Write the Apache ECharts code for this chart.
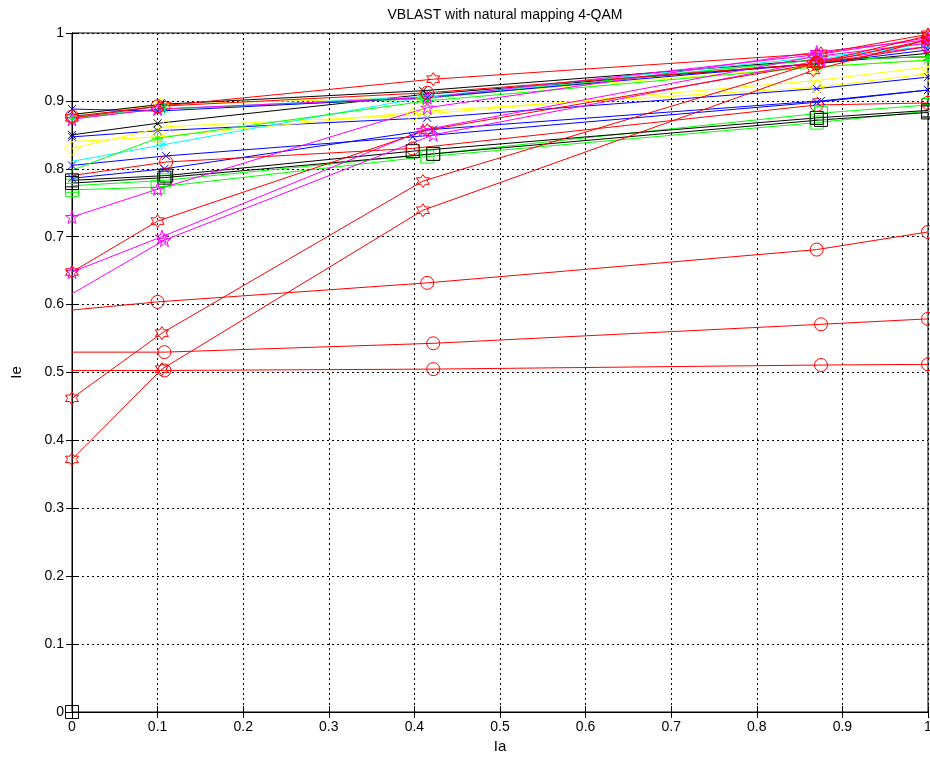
<!DOCTYPE html>
<html>
<head>
<meta charset="utf-8">
<script src="https://cdn.jsdelivr.net/npm/echarts@6/dist/echarts.min.js"></script>
<style>
  html, body { margin: 0; padding: 0; background: #fff; }
  #chart { width: 930px; height: 761px; }
</style>
</head>
<body>
<div id="chart"></div>
<script>
// Ia positions where the markers sit
const iaA = [0, 0.1, 0.415, 0.87, 1]
const iaB = [0, 0.108, 0.422, 0.875, 1]
const iaC = [0, 0.105, 0.41, 0.866, 1]
const iaD = [0, 0.11, 0.398, 0.87, 1]

// Ie values
const redHexTop = [0.875, 0.893, 0.932, 0.970, 0.998]
const redHexMid = [0.648, 0.723, 0.857, 0.955, 0.990]
const redHexLow = [0.462, 0.558, 0.782, 0.955, 0.996]
const redHexBot = [0.372, 0.505, 0.739, 0.945, 0.990]
const redCircA = [0.592, 0.604, 0.632, 0.681, 0.707]
const redCircB = [0.530, 0.530, 0.543, 0.571, 0.579]
const redCircC = [0.503, 0.503, 0.505, 0.511, 0.512]
const redCircD = [0.790, 0.810, 0.830, 0.894, 0.897]
const redCircE = [0.877, 0.892, 0.912, 0.955, 0.980]
const magA = [0.729, 0.770, 0.890, 0.972, 0.990]
const magB = [0.648, 0.700, 0.857, 0.965, 0.985]
const magC = [0.616, 0.695, 0.850, 0.960, 0.980]
const magD = [0.873, 0.888, 0.905, 0.968, 0.993]
const blueA = [0.888, 0.885, 0.905, 0.955, 0.975]
const blueB = [0.847, 0.856, 0.875, 0.918, 0.935]
const blueC = [0.805, 0.819, 0.847, 0.898, 0.916]
const blueD = [0.786, 0.800, 0.858, 0.900, 0.916]
const blackA = [0.850, 0.867, 0.910, 0.955, 0.970]
const blackB = [0.880, 0.895, 0.915, 0.960, 0.965]
const blackSqA = [0.783, 0.790, 0.826, 0.875, 0.886]
const blackSqB = [0.779, 0.787, 0.822, 0.872, 0.883]
const greenSqA = [0.775, 0.783, 0.822, 0.882, 0.894]
const greenSqB = [0.769, 0.773, 0.818, 0.868, 0.885]
const greenStA = [0.875, 0.888, 0.903, 0.960, 0.965]
const greenStB = [0.798, 0.845, 0.900, 0.950, 0.960]
const cyanA = [0.811, 0.835, 0.905, 0.960, 0.985]
const cyanB = [0.878, 0.888, 0.907, 0.965, 0.980]
const yellowA = [0.830, 0.862, 0.879, 0.930, 0.950]
const yellowB = [0.840, 0.847, 0.885, 0.920, 0.940]
const yellowC = [0.880, 0.895, 0.905, 0.950, 0.960]
const originPt = [0]

// marker shapes (MATLAB style)
function starPath(points, inner) {
  let d = ''
  for (let i = 0; i < points * 2; i++) {
    const r = i % 2 === 0 ? 50 : 50 * inner
    const a = -Math.PI / 2 + i * Math.PI / points
    d += (i === 0 ? 'M' : 'L') + (50 + r * Math.cos(a)).toFixed(2) + ' ' + (50 + r * Math.sin(a)).toFixed(2)
  }
  return 'path://' + d + 'Z'
}
const MK = {
  hex: starPath(6, 0.577),
  pent: starPath(5, 0.382),
  circ: 'circle',
  sq: 'path://M0 0L10 0L10 10L0 10Z',
  dia: 'path://M5 0L10 7L5 14L0 7Z',
  x: 'path://M0 0L10 10M10 0L0 10',
  star: 'path://M0 0L10 10M10 0L0 10M5 -2L5 12M-2 5L12 5'
}
const MS = { hex: 13, pent: 13, circ: 13, sq: 13, dia: 14, x: 8, star: 11 }

// color, marker, Ia list, Ie list, hide marker at Ia = 0
const curves = [
  ['#00ff00', 'sq', iaB, greenSqA],
  ['#00ff00', 'sq', iaA, greenSqB],
  ['#000000', 'sq', iaD, blackSqA],
  ['#000000', 'sq', iaB, blackSqB],
  ['#0000ff', 'x', iaB, blueD],
  ['#0000ff', 'x', iaD, blueC],
  ['#0000ff', 'x', iaA, blueB],
  ['#ffff00', 'dia', iaD, yellowA],
  ['#ffff00', 'dia', iaA, yellowB, true],
  ['#ffff00', 'dia', iaC, yellowC, true],
  ['#00ffff', 'star', iaC, cyanA, true],
  ['#00ff00', 'star', iaA, greenStB, true],
  ['#000000', 'x', iaA, blackA],
  ['#000000', 'x', iaC, blackB, true],
  ['#00ffff', 'star', iaB, cyanB],
  ['#00ff00', 'star', iaC, greenStA],
  ['#0000ff', 'x', iaA, blueA],
  ['#ff00ff', 'pent', iaA, magD],
  ['#ff00ff', 'pent', iaA, magA],
  ['#ff00ff', 'pent', iaC, magB],
  ['#ff00ff', 'pent', iaB, magC, true],
  ['#ff0000', 'circ', iaD, redCircD, true],
  ['#ff0000', 'circ', iaA, redCircE],
  ['#ff0000', 'circ', iaA, redCircA, true],
  ['#ff0000', 'circ', iaB, redCircB, true],
  ['#ff0000', 'circ', iaB, redCircC, true],
  ['#ff0000', 'hex', iaA, redHexMid],
  ['#ff0000', 'hex', iaC, redHexLow],
  ['#ff0000', 'hex', iaC, redHexBot],
  ['#ff0000', 'hex', iaB, redHexTop],
  ['#000000', 'sq', [0], originPt]
]

const series = curves.map(([color, mk, xs, ys, hideFirst]) => ({
  type: 'line',
  data: ys.map((v, i) => (i === 0 && hideFirst ? { value: [xs[i], v], symbol: 'none' } : [xs[i], v])),
  symbol: MK[mk],
  symbolSize: MS[mk],
  showSymbol: true,
  silent: true,
  animation: false,
  clip: false,
  lineStyle: { color, width: 1 },
  itemStyle: { color: 'rgba(0,0,0,0)', borderColor: color, borderWidth: 1 },
  emphasis: { disabled: true }
}))

const font = 'Liberation Sans, Arial, sans-serif'
const tickFmt = v => (Math.abs(v) < 1e-9 ? '0' : Math.abs(v - 1) < 1e-9 ? '1' : String(+v.toFixed(1)))
const dash = { color: '#000', width: 1, type: [2, 3] }

const chart = echarts.init(document.getElementById('chart'), null, { renderer: 'canvas' })
chart.setOption({
  backgroundColor: '#fff',
  animation: false,
  title: {
    text: 'VBLAST with natural mapping 4-QAM',
    left: 500, top: 3, textAlign: 'center',
    textStyle: { fontFamily: font, fontSize: 14, fontWeight: 'normal', color: '#000' }
  },
  grid: {
    show: true, borderColor: '#000', borderWidth: 1,
    left: 72, top: 33, right: 2, bottom: 49,
    outerBoundsMode: 'none', containLabel: false
  },
  xAxis: [{
    type: 'value', min: 0, max: 1, interval: 0.1,
    name: 'Ia', nameLocation: 'middle', nameGap: 26,
    nameTextStyle: { fontFamily: font, fontSize: 15, color: '#000' },
    axisLine: { show: true, lineStyle: { color: '#000' } },
    axisTick: { show: true, inside: true, length: 6, lineStyle: { color: '#000' } },
    axisLabel: { fontFamily: font, fontSize: 14, color: '#000', margin: 8, formatter: tickFmt },
    splitLine: { show: true, lineStyle: dash }
  }, {
    type: 'value', min: 0, max: 1, interval: 0.1, position: 'top',
    axisLine: { show: true, lineStyle: { color: '#000' } },
    axisTick: { show: true, inside: true, length: 6, lineStyle: { color: '#000' } },
    axisLabel: { show: false }, splitLine: { show: false }
  }],
  yAxis: [{
    type: 'value', min: 0, max: 1, interval: 0.1,
    name: 'Ie', nameLocation: 'middle', nameGap: 48,
    nameTextStyle: { fontFamily: font, fontSize: 15, color: '#000' },
    axisLine: { show: true, lineStyle: { color: '#000' } },
    axisTick: { show: true, inside: true, length: 6, lineStyle: { color: '#000' } },
    axisLabel: { fontFamily: font, fontSize: 14, color: '#000', margin: 8, formatter: tickFmt },
    splitLine: { show: true, lineStyle: dash }
  }, {
    type: 'value', min: 0, max: 1, interval: 0.1, position: 'right',
    axisLine: { show: true, lineStyle: { color: '#000' } },
    axisTick: { show: true, inside: true, length: 6, lineStyle: { color: '#000' } },
    axisLabel: { show: false }, splitLine: { show: false }
  }],
  series
})
</script>
</body>
</html>
